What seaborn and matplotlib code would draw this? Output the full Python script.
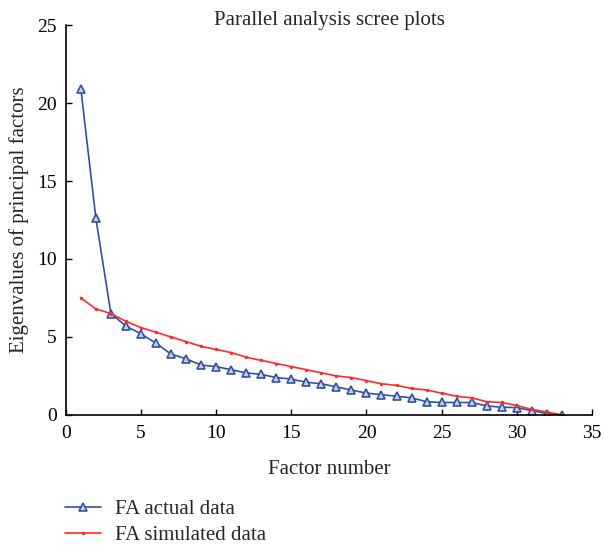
import numpy as np
import pandas as pd
import seaborn as sns
import matplotlib.pyplot as plt

factors = list(range(1, 34))
actual = [20.9, 12.6, 6.5, 5.7, 5.2, 4.6, 3.9, 3.6, 3.2, 3.1, 2.9, 2.7, 2.6, 2.4, 2.3,
          2.1, 2.0, 1.8, 1.6, 1.4, 1.3, 1.2, 1.1, 0.85, 0.8, 0.8, 0.8, 0.58, 0.5, 0.47,
          0.28, 0.09, 0.0]
simulated = [7.5, 6.8, 6.5, 6.0, 5.6, 5.3, 5.0, 4.7, 4.4, 4.2, 4.0, 3.7, 3.5, 3.3, 3.1,
             2.9, 2.7, 2.5, 2.4, 2.2, 2.0, 1.9, 1.7, 1.6, 1.4, 1.2, 1.1, 0.85, 0.8, 0.6,
             0.36, 0.19, 0.0]

df = pd.DataFrame({'factor': factors, 'actual': actual, 'simulated': simulated})

sns.set_style('ticks')
plt.rcParams['font.family'] = ['Liberation Serif', 'DejaVu Serif']

fig = plt.figure(figsize=(6.04, 5.5), dpi=100)
ax = fig.add_axes([0.109, 0.2455, 0.871, 0.709])

blue = '#3050a8'
red = '#ff2a2a'
sns.lineplot(data=df, x='factor', y='actual', ax=ax, color=blue, linewidth=1.2,
             marker='^', markersize=6, markerfacecolor='#c8d0ee', markeredgecolor=blue,
             markeredgewidth=1.2, label='FA actual data')
sns.lineplot(data=df, x='factor', y='simulated', ax=ax, color=red, linewidth=1.2,
             marker='o', markersize=2.5, markeredgewidth=0, label='FA simulated data')

ax.set_xlim(0, 35)
ax.set_ylim(0, 25)
ax.set_xticks(range(0, 36, 5))
ax.set_yticks(range(0, 26, 5))
ax.tick_params(direction='in', length=4, width=1, labelsize=14, colors='black')
ax.tick_params(axis='x', pad=7)
ax.tick_params(axis='y', pad=6.5)
for s in ['left', 'bottom']:
    ax.spines[s].set_linewidth(1.2)
    ax.spines[s].set_color('black')
sns.despine(ax=ax)

ax.set_xlabel('Factor number', fontsize=15, labelpad=13)
ax.set_ylabel('Eigenvalues of principal factors', fontsize=15, labelpad=6)
fig.text(0.545, 1 - 20 / 550, 'Parallel analysis scree plots',
         ha='center', va='center', fontsize=15)

handles, labels = ax.get_legend_handles_labels()
ax.legend_.remove()
fig.legend(handles, labels, loc='upper left', bbox_to_anchor=(0.0975, 0.103),
           frameon=False, fontsize=15, handlelength=1.7, labelspacing=0.3,
           handletextpad=0.67, borderaxespad=0, borderpad=0.3)

fig.savefig('out.png', dpi=100)
